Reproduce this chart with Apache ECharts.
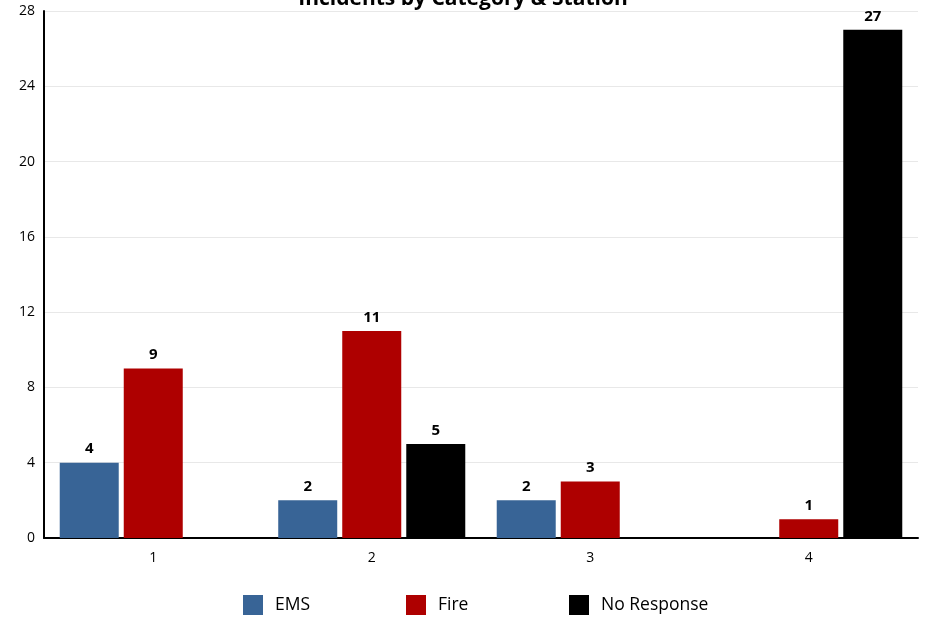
<!DOCTYPE html>
<html>
<head>
<meta charset="utf-8">
<script src="https://cdn.jsdelivr.net/npm/echarts@6/dist/echarts.min.js"></script>
<style>html,body{margin:0;padding:0;background:#fff}#c{width:926px;height:619px}</style>
</head>
<body>
<div id="c"></div>
<script>
var categories = ['1', '2', '3', '4'];
var seriesNames = ['EMS', 'Fire', 'No Response'];
var emsValues = [4, 2, 2, null];
var fireValues = [9, 11, 3, 1];
var noResponseValues = [null, 5, null, 27];
var yTicks = [0, 4, 8, 12, 16, 20, 24, 28];

var chart = echarts.init(document.getElementById('c'));
var labelStyle = {show: true, position: 'top', distance: 6, fontFamily: 'Open Sans', fontWeight: 'bold', fontSize: 15, color: '#000'};
var legendLefts = [238, 401, 564];
var legends = seriesNames.map(function (n, i) {
  return {data: [n], left: legendLefts[i], top: 590, itemWidth: 20, itemHeight: 20, icon: 'rect',
    textStyle: {fontFamily: 'Open Sans', fontSize: 17.5, color: '#000', padding: [0, 0, 0, 7]}};
});
chart.setOption({
  animation: false,
  title: {text: 'Incidents by Category & Station', left: 'center', top: -16,
    textStyle: {fontFamily: 'Open Sans', fontWeight: 'bold', fontSize: 21, color: '#000'}},
  legend: legends,
  grid: {left: 44, right: 8, top: 11, bottom: 81, containLabel: false},
  xAxis: {type: 'category', data: categories,
    axisLine: {lineStyle: {color: '#000', width: 2}},
    axisTick: {show: false},
    axisLabel: {fontFamily: 'Open Sans', fontSize: 14, color: '#000', margin: 13}},
  yAxis: {type: 'value', min: yTicks[0], max: yTicks[yTicks.length - 1], interval: 4,
    axisLine: {show: true, lineStyle: {color: '#000', width: 2}},
    axisTick: {show: false},
    splitLine: {lineStyle: {color: '#e8e8e8', width: 1}},
    axisLabel: {fontFamily: 'Open Sans', fontSize: 14, color: '#000', margin: 9}},
  series: [
    {name: seriesNames[0], type: 'bar', data: emsValues, itemStyle: {color: '#386496'}, barGap: '8.5%', barCategoryGap: '14.4%', label: labelStyle},
    {name: seriesNames[1], type: 'bar', data: fireValues, itemStyle: {color: '#ae0000'}, label: labelStyle},
    {name: seriesNames[2], type: 'bar', data: noResponseValues, itemStyle: {color: '#000000'}, label: labelStyle}
  ]
});
</script>
</body>
</html>
